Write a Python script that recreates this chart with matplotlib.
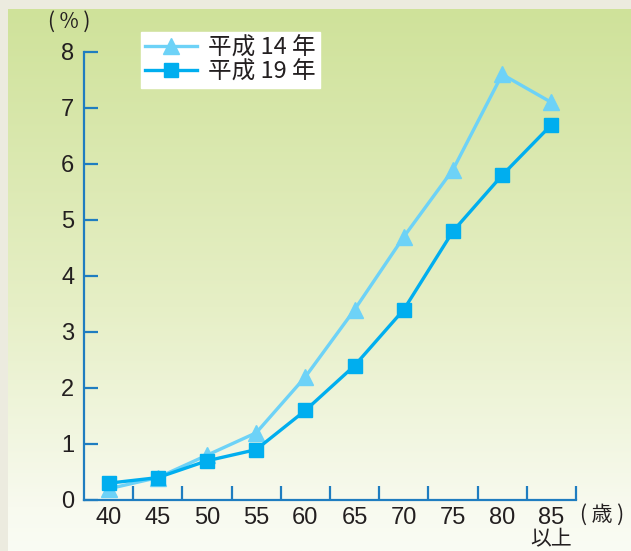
import matplotlib

matplotlib.use("Agg")
import matplotlib.pyplot as plt
import numpy as np
from matplotlib.colors import LinearSegmentedColormap

plt.rcParams["font.family"] = ["Noto Sans CJK JP", "DejaVu Sans"]

AGES = ["40", "45", "50", "55", "60", "65", "70", "75", "80", "85"]
H14 = [0.2, 0.4, 0.8, 1.2, 2.2, 3.4, 4.7, 5.9, 7.6, 7.1]
H19 = [0.3, 0.4, 0.7, 0.9, 1.6, 2.4, 3.4, 4.8, 5.8, 6.7]
YTICKS = [0, 1, 2, 3, 4, 5, 6, 7, 8]

AXIS_BLUE = "#1f7dc0"
LIGHT_BLUE = "#6dd2f7"
BLUE = "#00aeef"
TEXT = "#231f20"

W, H = 631, 551
fig = plt.figure(figsize=(W / 100, H / 100), dpi=100, facecolor="#ecebdf")

# green-to-white panel behind the chart
bg = fig.add_axes([8 / W, 0, 1 - 8 / W, 1 - 9 / H])
grad = LinearSegmentedColormap.from_list(
    "panel", [(0, "#cfe29a"), (0.55, "#e6efc6"), (0.92, "#f8faef"), (1, "#fafcf4")]
)
bg.imshow(np.linspace(0, 1, 256)[:, None], aspect="auto", cmap=grad,
          extent=[0, 1, 0, 1], origin="upper")
bg.set_axis_off()

ax = fig.add_axes([84 / W, 1 - 500 / H, (576 - 84) / W, (500 - 52) / H])
ax.patch.set_alpha(0)

x = np.arange(len(AGES))
ax.plot(x, H14, color=LIGHT_BLUE, lw=2.4, marker="^", ms=11, mec=LIGHT_BLUE,
        label="平成 14 年", zorder=3)
ax.plot(x, H19, color=BLUE, lw=2.4, marker="s", ms=9.5, mec=BLUE,
        label="平成 19 年", zorder=4)

ax.set_xlim(-0.5, len(AGES) - 0.5)
ax.set_ylim(0, 8)
for s in ("top", "right"):
    ax.spines[s].set_visible(False)
for s in ("left", "bottom"):
    ax.spines[s].set_color(AXIS_BLUE)
    ax.spines[s].set_linewidth(1.6)

ax.set_yticks(YTICKS)
ax.set_yticklabels([str(v) for v in YTICKS], fontsize=17, color=TEXT,
                   family="Liberation Sans")
ax.tick_params(axis="y", direction="in", length=10, width=1.6, color=AXIS_BLUE, pad=7)

# category labels centred, tick marks on the boundaries
ax.set_xticks(x)
ax.set_xticklabels(AGES, fontsize=17, color=TEXT, family="Liberation Sans")
ax.tick_params(axis="x", which="major", length=0, pad=5)
ax.set_xticks(np.arange(0.5, len(AGES)), minor=True)
ax.tick_params(axis="x", which="minor", direction="in", length=10, width=1.6,
               color=AXIS_BLUE)

fig.text(69 / W, 1 - 22 / H, "( % )", ha="center", va="center",
         fontsize=15, color=TEXT)
fig.text(602 / W, 1 - 515 / H, "( 歳 )", ha="center", va="center",
         fontsize=15, color=TEXT)
ax.text(9, -0.062, "以上", transform=ax.get_xaxis_transform(), ha="center",
        va="top", fontsize=15, color=TEXT)

leg = ax.legend(loc="upper left", bbox_to_anchor=(0.115, 1.045), fontsize=17,
                frameon=True, fancybox=False, framealpha=1, edgecolor="white",
                borderpad=0.2, handlelength=2.2, handletextpad=0.45,
                labelspacing=0.05, borderaxespad=0)
for t in leg.get_texts():
    t.set_color(TEXT)

fig.savefig("out.png", dpi=100, facecolor=fig.get_facecolor())
